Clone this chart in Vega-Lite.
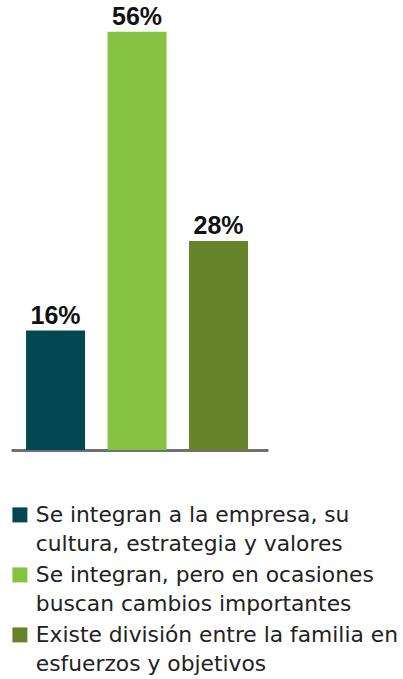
{
  "$schema": "https://vega.github.io/schema/vega-lite/v6.json",
  "width": 257,
  "height": 448,
  "autosize": "none",
  "padding": {"left": 11, "top": 2, "right": 135, "bottom": 229},
  "background": "white",
  "config": {"view": {"stroke": null}, "font": "Liberation Sans"},
  "data": {"values": [
    {"cat": "Se integran a la empresa, su|cultura, estrategia y valores", "value": 0.16},
    {"cat": "Se integran, pero en ocasiones|buscan cambios importantes", "value": 0.56},
    {"cat": "Existe división entre la familia en|esfuerzos y objetivos", "value": 0.28}
  ]},
  "encoding": {
    "x": {"field": "cat", "type": "nominal", "sort": null,
      "scale": {"paddingInner": 0.276, "paddingOuter": 0.215, "align": 0.43},
      "axis": {"title": null, "labels": false, "ticks": false, "domainColor": "#707070", "domainWidth": 3}},
    "y": {"field": "value", "type": "quantitative", "scale": {"domain": [0, 0.6]}, "axis": null}
  },
  "layer": [
    {"mark": {"type": "bar"},
     "encoding": {"color": {"field": "cat", "type": "nominal", "sort": null,
        "scale": {"range": ["#024751", "#86C343", "#66832A"]},
        "legend": {"title": null, "orient": "none", "legendX": -2, "legendY": 502, "padding": 0,
          "symbolType": "square", "symbolSize": 225, "symbolStrokeWidth": 0,
          "labelExpr": "split(datum.label, '|')",
          "labelFont": "DejaVu Sans", "labelFontWeight": "normal", "labelFontSize": 21.8, "labelColor": "#222222",
          "labelBaseline": "top", "labelOffset": 5, "rowPadding": 8, "labelLimit": 400,
          "encode": {"labels": {"update": {"lineHeight": {"value": 29}, "dy": {"value": -10}}}}}}}},
    {"mark": {"type": "text", "fontSize": 25, "fontWeight": "bold", "font": "Liberation Sans", "baseline": "alphabetic", "dy": -7, "color": "#111111"},
     "encoding": {"text": {"field": "value", "type": "quantitative", "format": ".0%"}, "detail": {"field": "cat"}}}
  ]
}
